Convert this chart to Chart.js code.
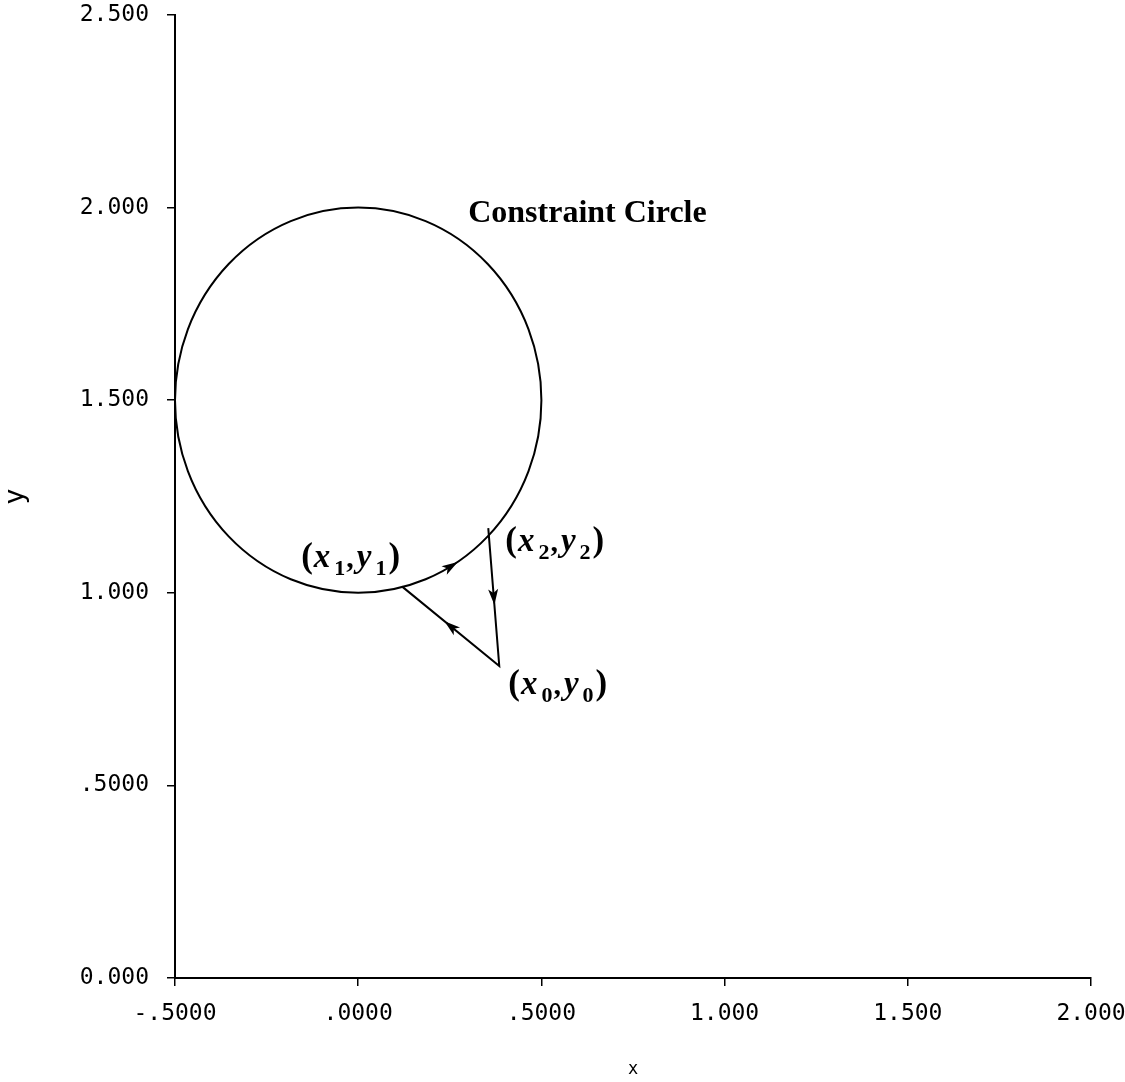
<!DOCTYPE html>
<html>
<head>
<meta charset="utf-8">
<title>Constraint Circle</title>
<script src="https://cdn.jsdelivr.net/npm/chart.js@4.4.1/dist/chart.umd.min.js"></script>
<style>
    html, body { margin: 0; padding: 0; background: #fff; }
    #wrap { width: 1125px; height: 1082px; position: relative; }
</style>
</head>
<body>
<div id="wrap"><canvas id="chart"></canvas></div>
<script>
// Graduations des axes
const xTickValues = [-0.5, 0, 0.5, 1, 1.5, 2];
const xTickLabels = ["-.5000", ".0000", ".5000", "1.000", "1.500", "2.000"];
const yTickValues = [0, 0.5, 1, 1.5, 2, 2.5];
const yTickLabels = ["0.000", ".5000", "1.000", "1.500", "2.000", "2.500"];

// Cercle de contrainte : centre (x, y) et rayon
const circleCenter = [0, 1.5];
const circleRadius = 0.5;

// Trajet (x1,y1) -> (x0,y0) -> (x2,y2)
const pathNames = ["1", "0", "2"];
const pathX = [0.12, 0.385, 0.355];
const pathY = [1.016, 0.81, 1.168];

const INK = "#000";
const MONO = "'DejaVu Sans Mono', monospace";
const SERIF = "'Liberation Serif', 'DejaVu Serif', serif";

/** Petite tête de flèche pleine, pointe dans la direction `angle` (radians, repère écran). */
function drawArrowHead(ctx, x, y, angle) {
    const len = 16;
    const half = 5;
    ctx.save();
    ctx.translate(x, y);
    ctx.rotate(angle);
    ctx.beginPath();
    ctx.moveTo(len / 2, 0);
    ctx.lineTo(-len / 2, -half);
    ctx.lineTo(-len / 2 + 4, 0);
    ctx.lineTo(-len / 2, half);
    ctx.closePath();
    ctx.fillStyle = INK;
    ctx.fill();
    ctx.restore();
}

/** Écrit "(x_a,y_a)" en italique gras avec indices. */
function drawPointLabel(ctx, left, baseline, sub) {
    const parts = [
        { t: "(", font: "bold 35px " + SERIF, dy: 0 },
        { t: "x", font: "italic bold 33px " + SERIF, dy: 0, gap: 1 },
        { t: sub, font: "bold 22px " + SERIF, dy: 8, gap: 4 },
        { t: ",", font: "bold 30px " + SERIF, dy: 0, gap: 1 },
        { t: "y", font: "italic bold 33px " + SERIF, dy: 0, gap: 3 },
        { t: sub, font: "bold 22px " + SERIF, dy: 8, gap: 4 },
        { t: ")", font: "bold 35px " + SERIF, dy: 0, gap: 2 },
    ];
    let x = left;
    ctx.save();
    ctx.fillStyle = INK;
    ctx.textBaseline = "alphabetic";
    ctx.textAlign = "left";
    for (const p of parts) {
        x += p.gap ?? 0;
        ctx.font = p.font;
        ctx.fillText(p.t, x, baseline + p.dy);
        x += ctx.measureText(p.t).width;
    }
    ctx.restore();
}

const annotationPlugin = {
    id: "constraintAnnotations",
    afterDatasetsDraw(chart) {
        const { ctx } = chart;
        const xs = chart.scales.x;
        const ys = chart.scales.y;

        const cx = xs.getPixelForValue(circleCenter[0]);
        const cy = ys.getPixelForValue(circleCenter[1]);
        const rx = xs.getPixelForValue(circleCenter[0] + circleRadius) - cx;
        const ry = cy - ys.getPixelForValue(circleCenter[1] + circleRadius);

        // cercle
        ctx.save();
        ctx.strokeStyle = INK;
        ctx.lineWidth = 2;
        ctx.beginPath();
        ctx.ellipse(cx, cy, rx, ry, 0, 0, Math.PI * 2);
        ctx.stroke();
        ctx.restore();

        const px = pathX.map((v) => xs.getPixelForValue(v));
        const py = pathY.map((v) => ys.getPixelForValue(v));

        // flèche sur l'arc, entre (x1,y1) et (x2,y2)
        const a1 = Math.atan2(pathY[0] - circleCenter[1], pathX[0] - circleCenter[0]);
        const a2 = Math.atan2(pathY[2] - circleCenter[1], pathX[2] - circleCenter[0]);
        const am = (a1 + a2) / 2;
        const ax = cx + rx * Math.cos(am);
        const ay = cy - ry * Math.sin(am);
        drawArrowHead(ctx, ax, ay, Math.atan2(-Math.cos(am) * ry, -Math.sin(am) * rx));

        // flèche (x0,y0) -> (x1,y1)
        drawArrowHead(ctx, (px[1] + px[0]) / 2, (py[1] + py[0]) / 2,
            Math.atan2(py[0] - py[1], px[0] - px[1]));
        // flèche (x2,y2) -> (x0,y0)
        drawArrowHead(ctx, (px[2] + px[1]) / 2, (py[2] + py[1]) / 2,
            Math.atan2(py[1] - py[2], px[1] - px[2]));

        // étiquettes des points
        drawPointLabel(ctx, px[0] - 101, py[0] - 20, pathNames[0]);
        drawPointLabel(ctx, px[1] + 9, py[1] + 28, pathNames[1]);
        drawPointLabel(ctx, px[2] + 17, py[2] + 23, pathNames[2]);

        // titre du cercle
        ctx.save();
        ctx.fillStyle = INK;
        ctx.font = "bold 32px " + SERIF;
        ctx.textAlign = "left";
        ctx.textBaseline = "alphabetic";
        ctx.fillText("Constraint Circle", cx + 110, cy - ry + 14);
        ctx.restore();
    },
};

const axisGrid = {
    display: true,
    drawOnChartArea: false,
    drawTicks: true,
    tickLength: 8,
    color: INK,
    lineWidth: 1.5,
};

new Chart(document.getElementById("chart"), {
    type: "scatter",
    data: {
        datasets: [
            {
                data: pathX.map((x, i) => ({ x, y: pathY[i] })),
                showLine: true,
                borderColor: INK,
                borderWidth: 2,
                pointRadius: 0,
                tension: 0,
            },
        ],
    },
    options: {
        responsive: true,
        maintainAspectRatio: false,
        animation: false,
        layout: { padding: 0 },
        plugins: {
            legend: { display: false },
            tooltip: { enabled: false },
        },
        scales: {
            x: {
                type: "linear",
                min: -0.5,
                max: 2,
                afterBuildTicks: (scale) => {
                    scale.ticks = xTickValues.map((value) => ({ value }));
                },
                afterFit: (scale) => {
                    scale.height = 104;
                    scale.paddingRight = 34;
                    scale.paddingLeft = 0;
                },
                ticks: {
                    autoSkip: false,
                    maxRotation: 0,
                    padding: 14,
                    color: INK,
                    font: { family: MONO, size: 23 },
                    callback: (value, index) => xTickLabels[index],
                },
                grid: axisGrid,
                border: { display: true, color: INK, width: 2 },
                title: {
                    display: true,
                    text: "x",
                    color: INK,
                    font: { family: MONO, size: 17 },
                    padding: { top: 0, bottom: 2 },
                },
            },
            y: {
                type: "linear",
                min: 0,
                max: 2.5,
                afterBuildTicks: (scale) => {
                    scale.ticks = yTickValues.map((value) => ({ value }));
                },
                afterFit: (scale) => {
                    scale.width = 175;
                    scale.paddingTop = 15;
                    scale.paddingBottom = 0;
                },
                ticks: {
                    autoSkip: false,
                    padding: 18,
                    color: INK,
                    font: { family: MONO, size: 23 },
                    callback: (value, index) => yTickLabels[index],
                },
                grid: axisGrid,
                border: { display: true, color: INK, width: 2 },
                title: {
                    display: true,
                    text: "y",
                    color: INK,
                    font: { family: MONO, size: 27 },
                    padding: { top: 0, bottom: 0 },
                },
            },
        },
    },
    plugins: [annotationPlugin],
});
</script>
</body>
</html>
